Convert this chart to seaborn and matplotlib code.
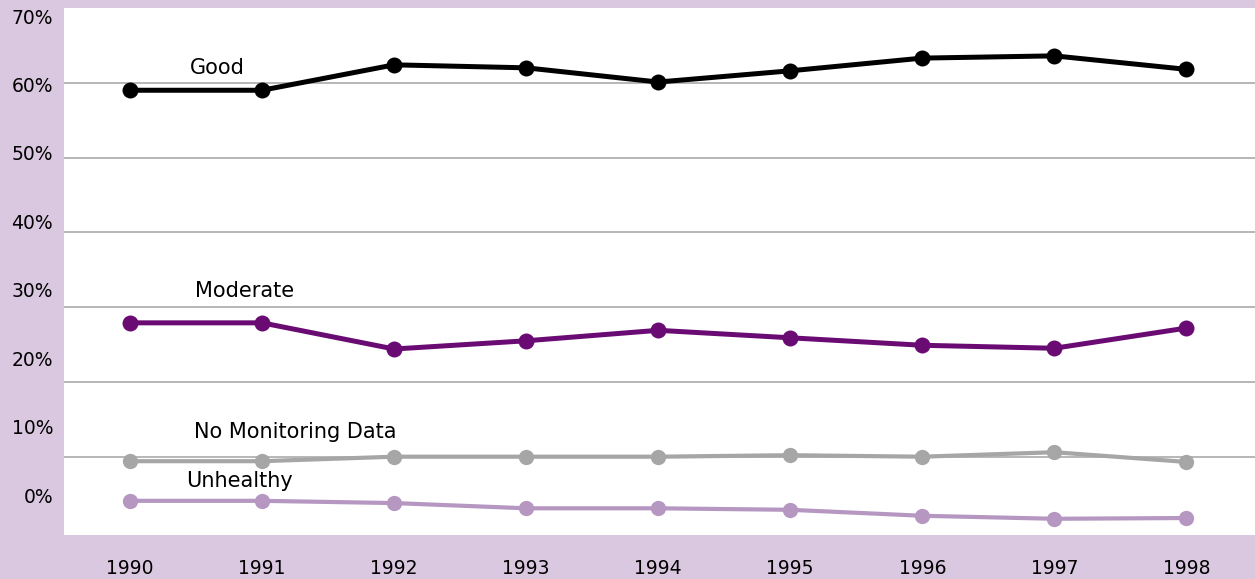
import matplotlib
matplotlib.use("Agg")
import matplotlib.pyplot as plt
import matplotlib.transforms as mtransforms
import seaborn as sns
import pandas as pd
import numpy as np

years = ["1990", "1991", "1992", "1993", "1994", "1995", "1996", "1997", "1998"]
good = [59.0, 59.0, 62.4, 62.0, 60.1, 61.6, 63.3, 63.6, 61.8]
moderate = [27.9, 27.9, 24.4, 25.5, 26.9, 25.9, 24.9, 24.5, 27.2]
no_data = [9.4, 9.4, 10.0, 10.0, 10.0, 10.2, 10.0, 10.6, 9.3]
unhealthy = [4.1, 4.1, 3.8, 3.1, 3.1, 2.9, 2.1, 1.7, 1.8]
ytick_values = [0, 10, 20, 30, 40, 50, 60, 70]
ytick_labels = ["0%", "10%", "20%", "30%", "40%", "50%", "60%", "70%"]

sns.set_theme(style="white")
plt.rcParams["font.family"] = ["DejaVu Sans"]
plt.rcParams["text.color"] = "black"

BG = "#D9C8DF"
fig = plt.figure(figsize=(12.55, 5.79), dpi=100, facecolor=BG)
ax = fig.add_axes([64 / 1255, 44 / 579, 1 - 64 / 1255, (535 - 8) / 579])
ax.set_facecolor("white")

x = np.arange(len(years))
series = [
    ("No Monitoring Data", no_data, "#A6A6A6", 3.0, 11),
    ("Unhealthy", unhealthy, "#B597C1", 3.0, 11),
    ("Moderate", moderate, "#6A0B73", 3.6, 11.5),
    ("Good", good, "#000000", 3.6, 11.5),
]
for name, vals, col, lw, ms in series:
    df = pd.DataFrame({"x": x, "y": vals})
    sns.lineplot(data=df, x="x", y="y", ax=ax, color=col, linewidth=lw,
                 marker="o", markersize=ms, markeredgewidth=0, zorder=3)

# gridlines at 10..60
for v in ytick_values[1:-1]:
    ax.axhline(v, color="#A3A3A3", linewidth=1.1, zorder=1)

ax.set_xlim(-0.5, 8.52)
ax.set_ylim(-0.47, 70.0)
ax.set_xticks(x)
ax.set_xticklabels(years, fontsize=13.5, color="black")
ax.tick_params(axis="x", length=0, pad=17)
ax.set_yticks([])
ax.set_xlabel("")
ax.set_ylabel("")
for s in ax.spines.values():
    s.set_visible(False)

# y labels as drawn in the reference (slightly compressed relative to gridlines)
trans = mtransforms.blended_transform_factory(ax.transAxes, ax.transData)
for v, lab in zip(ytick_values, ytick_labels):
    ax.text(-11 / 1191, 4.6 + v * 0.915, lab, transform=trans, ha="right",
            va="center", fontsize=13.5, color="black", clip_on=False)

# series labels
lab_kw = dict(fontsize=15, ha="center", va="center", color="black")
ax.text(0.66, 62.0, "Good", **lab_kw)
ax.text(0.87, 32.2, "Moderate", **lab_kw)
ax.text(1.25, 13.3, "No Monitoring Data", **lab_kw)
ax.text(0.83, 6.7, "Unhealthy", **lab_kw)

fig.savefig("out.png", dpi=100, facecolor=BG)
